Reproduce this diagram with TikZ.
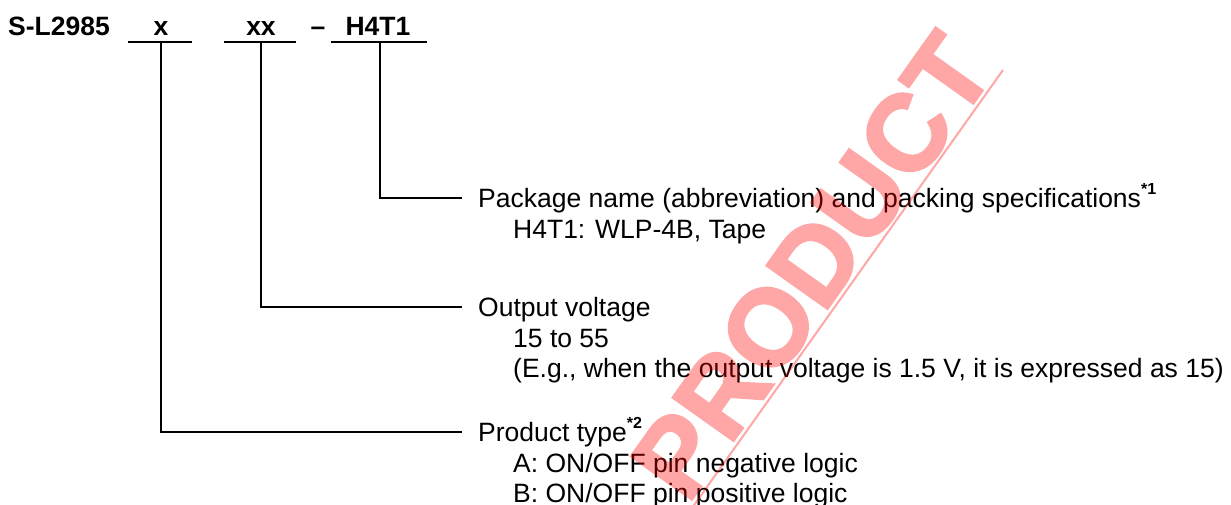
\documentclass[tikz,border=0pt]{standalone}
\usepackage{fontspec}
\setmainfont{Liberation Sans}
\newfontfamily\wmfont{Liberation Sans}[BoldFeatures={FakeBold=2.5}]
\begin{document}
\begin{tikzpicture}[x=1pt,y=-1pt,
  lbl/.style={anchor=base west, inner sep=0pt, font=\fontsize{26.5}{30}\selectfont},
  ttl/.style={anchor=base, inner sep=0pt, font=\bfseries\fontsize{26.5}{30}\selectfont},
  ln/.style={line width=2pt},
  wmtext/.style={inner sep=0pt, text=red, font=\wmfont\bfseries\fontsize{108}{108}\selectfont},
  wmline/.style={draw=red, line width=2pt}]
\useasboundingbox (0,0) rectangle (1231,504);
\newcommand{\supmark}[1]{\raisebox{13pt}{\fontsize{16}{16}\selectfont\bfseries #1}}
% title row
\node[ttl, anchor=base west] (pn) at (8,35.5) {S-L2985};
\node[ttl] (t1) at (161,35.5) {x};
\node[ttl] (t2) at (261,35.5) {xx};
\node[ttl] (dsh) at (318,35.5) {–};
\node[ttl] (t3) at (378,35.5) {H4T1};
% underlines
\coordinate (u1l) at (128,42); \coordinate (u1r) at (192,42);
\coordinate (u2l) at (224,42); \coordinate (u2r) at (296,42);
\coordinate (u3l) at (331,42); \coordinate (u3r) at (427,42);
\draw[ln] (u1l) -- (u1r);
\draw[ln] (u2l) -- (u2r);
\draw[ln] (u3l) -- (u3r);
\coordinate (s1) at (161,42);
\coordinate (s2) at (261,42);
\coordinate (s3) at (380,42);
\coordinate (e3) at (462,198);
\coordinate (e2) at (462,307);
\coordinate (e1) at (462,432);
\draw[ln] (s3) |- (e3);
\draw[ln] (s2) |- (e2);
\draw[ln] (s1) |- (e1);
% package block
\node[lbl] (pk) at (478,207.5) {Package name (abbreviation) and packing specifications\supmark{*1}};
\node[lbl] (pk1) at (513,238) {H4T1: WLP-4B, Tape};
% output voltage block
\node[lbl] (ov) at (478,316.5) {Output voltage};
\node[lbl] (ov1) at (513,347) {15 to 55};
\node[lbl] (ov2) at (513,377.5) {(E.g., when the output voltage is 1.5 V, it is expressed as 15)};
% product type block
\node[lbl] (pt) at (478,441.5) {Product type\supmark{*2}};
\node[lbl] (pt1) at (513,472) {A: ON/OFF pin negative logic};
\node[lbl] (pt2) at (513,502.5) {B: ON/OFF pin positive logic};
% watermark
\begin{scope}[transparency group, opacity=0.35]
\node[wmtext, rotate=54.6] (wmk) at (812,266) {PRODUCT};
\end{scope}
\coordinate (wl1) at (1003,70);
\coordinate (wl2) at (692,508);
\draw[wmline, opacity=0.35] (wl1) -- (wl2);
\end{tikzpicture}
\end{document}
